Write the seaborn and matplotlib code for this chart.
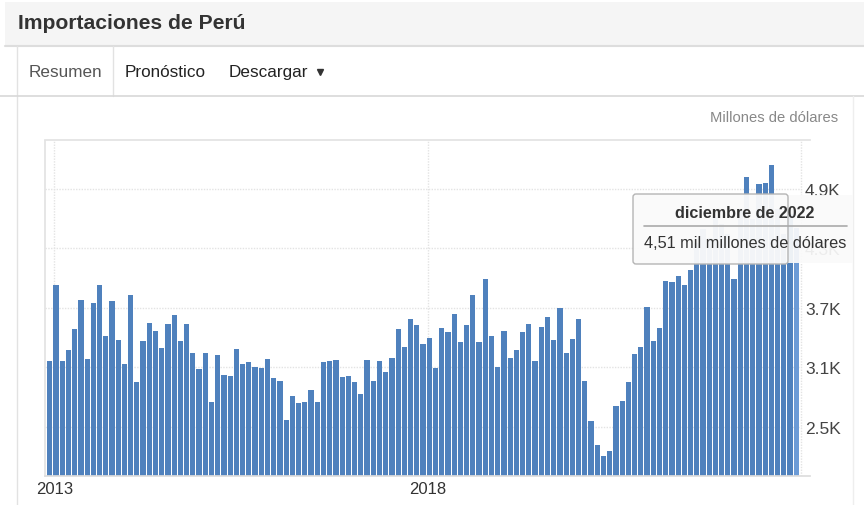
import pandas as pd
import seaborn as sns
import matplotlib.pyplot as plt
from matplotlib.patches import Rectangle, FancyBboxPatch

# Importaciones mensuales (millones de dolares), dic 2012 - dic 2022
meses = pd.date_range("2012-12-01", "2022-12-01", freq="MS").strftime("%Y-%m")
importaciones = [
    3160, 3930, 3160, 3270, 3490, 3780, 3180, 3750, 3930, 3410, 3770, 3370,
    3130, 3830, 2950, 3360, 3550, 3470, 3290, 3540, 3630, 3360, 3540, 3240,
    3080, 3240, 2750, 3220, 3020, 3010, 3280, 3130, 3150, 3100, 3090, 3180,
    2990, 2960, 2570, 2810, 2740, 2750, 2870, 2750, 3150, 3160, 3170, 3000,
    3010, 2950, 2830, 3170, 2960, 3160, 3050, 3190, 3490, 3300, 3590, 3530,
    3330, 3390, 3090, 3500, 3450, 3640, 3350, 3530, 3830, 3350, 3990, 3410,
    3100, 3470, 3190, 3270, 3460, 3540, 3160, 3510, 3610, 3370, 3700, 3240,
    3380, 3590, 2960, 2560, 2310, 2200, 2250, 2710, 2760, 2950, 3230, 3300,
    3710, 3360, 3500, 3970, 3960, 4020, 3930, 4080, 4350, 4500, 4400, 4620,
    4550, 4450, 3990, 4700, 5020, 4600, 4950, 4960, 5140, 4700, 4450, 4650,
    4510,
]
ticks_y = [2500, 3100, 3700, 4300, 4900]
etiquetas_y = ["2.5K", "3.1K", "3.7K", "4.3K", "4.9K"]
anios = ["2013", "2018"]
pos_anios = [0.72, 60.72, 120.72]

df = pd.DataFrame({"mes": meses, "valor": importaciones})

sns.set_theme(style="white")
plt.rcParams["font.family"] = ["Liberation Sans", "DejaVu Sans"]

fig = plt.figure(figsize=(8.64, 5.06), dpi=100, facecolor="white")

# fondo de la pagina (coordenadas en pixeles)
bg = fig.add_axes([0, 0, 1, 1], zorder=-1)
bg.set_xlim(0, 864)
bg.set_ylim(506, 0)
bg.axis("off")
bg.add_patch(Rectangle((5, 3), 859, 43, facecolor="#f5f5f5", edgecolor="none"))
bg.plot([5, 864], [46.5, 46.5], color="#dddddd", lw=1.5)
bg.plot([17, 17], [47, 506], color="#e2e2e2", lw=1)
bg.plot([113, 113], [47, 97], color="#e2e2e2", lw=1)
bg.plot([0, 864], [97, 97], color="#d8d8d8", lw=1.2)
bg.plot([853, 853], [97, 506], color="#eeeeee", lw=1)
bg.text(18, 23, "Importaciones de Perú", fontsize=15.2, fontweight="bold",
        color="#333333", va="center")
bg.text(29, 72, "Resumen", fontsize=12.3, color="#555555", va="center")
bg.text(125, 72, "Pronóstico", fontsize=12.3, color="#222222", va="center")
bg.text(229, 72, "Descargar", fontsize=12.3, color="#222222", va="center")
bg.plot([320], [73], marker="v", markersize=4, color="#333333")
bg.text(838, 118, "Millones de dólares", fontsize=10.6, color="#888888",
        ha="right", va="center")

# grafico principal
ax = fig.add_axes([45 / 864, 1 - 477 / 506, 765 / 864, 336 / 506])
sns.barplot(data=df, x="mes", y="valor", color="#4f81bd", saturation=1,
            width=0.84, edgecolor="none", ax=ax)
ax.patches[-1].set_facecolor("#6c9bd6")

ax.set_xlim(-0.77, 122.2)
ax.set_ylim(2000, 5395)
grid = dict(colors="#e3e3e3", linestyles=(0, (1, 1)), linewidth=1, zorder=0)
ax.hlines(ticks_y, -0.77, pos_anios[-1], **grid)
ax.vlines(pos_anios, 2000, 5395, **grid)

ax.spines["right"].set_visible(False)
ax.spines["left"].set_color("#e3e3e3")
ax.spines["left"].set_linestyle((0, (1, 1)))
ax.spines["top"].set_color("#e3e3e3")
ax.spines["top"].set_linestyle((0, (1, 1)))
ax.spines["bottom"].set_color("#dddddd")

ax.yaxis.tick_right()
ax.set_yticks(ticks_y, etiquetas_y)
ax.set_xticks(pos_anios[:2], anios)
ax.tick_params(axis="y", length=0, pad=-3.6, labelsize=12.5, labelcolor="#444444")
ax.tick_params(axis="x", length=0, pad=3.5, labelsize=12, labelcolor="#333333")
ax.set_xlabel("")
ax.set_ylabel("")

# tooltip
ov = fig.add_axes([0, 0, 1, 1], zorder=10)
ov.set_xlim(0, 864)
ov.set_ylim(506, 0)
ov.axis("off")
ov.patch.set_alpha(0)
ov.add_patch(Rectangle((788, 196), 65, 68, facecolor="#fafafa", alpha=0.93,
                       edgecolor="none"))
ov.add_patch(FancyBboxPatch((633, 195), 155, 70,
                            boxstyle="round,pad=0,rounding_size=3",
                            facecolor=(0.98, 0.98, 0.98, 0.96),
                            edgecolor="#b5b5b5", lw=1))
ov.plot([644, 847], [227, 227], color="#aaaaaa", lw=1.2)
ov.text(745, 214, "diciembre de 2022", fontsize=11.6, fontweight="bold",
        color="#333333", ha="center", va="center")
ov.text(745, 244, "4,51 mil millones de dólares", fontsize=11.7,
        color="#333333", ha="center", va="center")

fig.savefig("out.png", dpi=100)
